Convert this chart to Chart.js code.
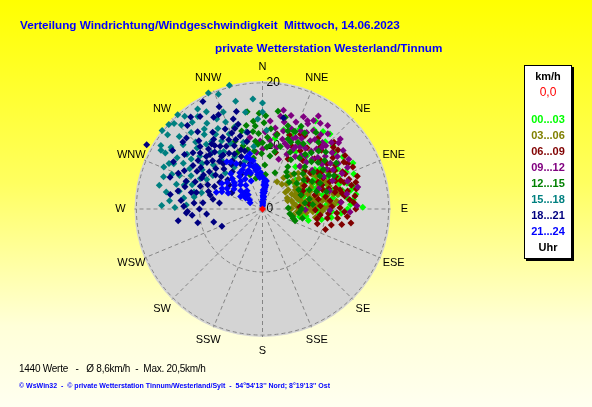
<!DOCTYPE html>
<html>
<head>
<meta charset="utf-8">
<script src="https://cdn.jsdelivr.net/npm/chart.js@4.4.0/dist/chart.umd.min.js"></script>
<style>
html, body { margin: 0; padding: 0; }
body {
    width: 592px; height: 407px; overflow: hidden; position: relative;
    background: linear-gradient(#ffff00 0%, #ffff60 45%, #ffffd8 80%, #fffff0 100%);
    font-family: "Liberation Sans", Arial, sans-serif;
}
canvas { position: absolute; left: 0; top: 0; }
.t { position: absolute; white-space: nowrap; }
.title { color: #0000ff; font-weight: bold; font-size: 11.7px; }
#legend {
    position: absolute; left: 524px; top: 65px; width: 46px; height: 192px;
    background: #fff; border: 1px solid #000; box-shadow: 2px 2px 0 #000;
}
#legend div { position: absolute; left: 0; width: 46px; text-align: center; font-size: 11px; font-weight: bold; line-height: 12px; }
</style>
</head>
<body>
<canvas id="rose" width="592" height="407"></canvas>

<div class="t title" style="left:20px; top:18px;">Verteilung Windrichtung/Windgeschwindigkeit&nbsp; Mittwoch, 14.06.2023</div>
<div class="t title" style="left:215px; top:41px;">private Wetterstation Westerland/Tinnum</div>

<div id="legend"></div>

<div class="t" style="left:19px; top:363px; font-size:10px; letter-spacing:-0.25px; color:#000;">1440 Werte &nbsp; - &nbsp; Ø 8,6km/h &nbsp;- &nbsp;Max. 20,5km/h</div>
<div class="t" style="left:19px; top:382px; font-size:7px; font-weight:bold; color:#0000ff;">© WsWin32 &nbsp;- &nbsp;© private Wetterstation Tinnum/Westerland/Sylt &nbsp;- &nbsp;54°54'13'' Nord; 8°19'13'' Ost</div>

<script>
// compass labels and speed rings (km/h)
var directions = ['N', 'NNE', 'NE', 'ENE', 'E', 'ESE', 'SE', 'SSE', 'S', 'SSW', 'SW', 'WSW', 'W', 'WNW', 'NW', 'NNW'];
var rings = [0, 10, 20];
var maxSpeed = 20.3;

// one point per reading: [direction in degrees, speed in km/h]
var h00_03 = [[31,16.3],[38,15.6],[55,11.2],[63,16.1],[76,14.8],[89,15.9],[83,13.6],[79,12.1],[95,6.8],[74,9.1],
    [43,14.6],[44,5.8],[76,5.9],[10,11.4],[78,14.3],[79,12.3],[96,6.5],[91,8.7],[60,9.5],[65,10.5],
    [70,11],[58,8],[68,7.5],[82,8.5],[86,10.2],[72,12.8],[50,12],[47,9],[62,13.5],[85,12],
    [66,14.5],[56,13],[80,10],[88,7.2],[73,6.8],[53,10.4],[40,11],[35,13],[69,9],[92,11],
    [100,9.5],[104,7.5],[90,13.5],[25,14],[33,15],[42,16],[48,15],[52,14.5],[57,15.2],[61,12],
    [64,11.5],[67,13],[69,15.5],[71,10],[73,14],[75,11.5],[77,13],[81,15],[84,14.5],[86,11],
    [87,14],[90,10.5],[93,12.5],[95,9],[97,11],[99,7],[102,6],[45,11],[49,7],[54,6.5],
    [59,11.8],[63,9],[67,8.6],[71,7.2],[77,9.8],[81,11.3],[84,8.8],[88,9.4],[91,6],[38,8.5],
    [30,10.5],[22,12.5],[15,13]];
var h03_06 = [[28,4.9],[53,5.1],[81,6.4],[85,8.5],[87,11.3],[77,7.8],[67,9.7],[53,8.5],[83,5.3],[85,7.7],
    [88,10.5],[60,6],[65,7],[70,8],[72,6.5],[75,9],[78,10.5],[80,7],[62,8.8],[58,7.4],
    [68,5.5],[74,4.8],[82,9.6],[86,6],[90,7.5],[92,9.5],[48,6.5],[45,8],[40,7],[64,10.5],
    [71,11.2],[76,12],[55,9.6],[66,4.3],[94,5.5],[89,4.6],[79,8.3],[84,11.8],[50,7.5],[52,9.8],
    [56,6.3],[59,10],[61,7.2],[63,5.2],[66,8.4],[67,11],[69,6.8],[70,9.5],[72,7.6],[73,10.8],
    [74,5.8],[76,8.8],[77,6.2],[78,11.5],[80,5],[81,8],[82,10.3],[83,7],[84,6.4],[86,9],
    [87,5.6],[88,8.2],[89,9.8],[91,6.5],[93,8],[95,7],[97,6],[99,8.5],[101,5],[44,5.5],
    [42,9],[38,5],[34,6],[57,11.5],[61,12],[65,6],[79,12.2],[85,10.8],[72,4.2],[54,4.5]];
var h06_09 = [[49,14.9],[60,14.9],[65,14],[74,15.4],[71,14.5],[66,12.7],[74,12.1],[76,12.7],[79,10.2],[91,8.4],
    [99,14.2],[51,14.3],[27,13.3],[30,13.4],[43,13.5],[11,12.1],[13,9.2],[27,8.9],[100,8.8],[87,5.9],
    [55,12.5],[58,11],[62,13],[68,11.5],[70,13.2],[78,13.8],[82,14.8],[85,12.5],[88,11],[94,10.5],
    [97,12],[64,9.8],[72,10],[46,11.5],[40,10],[36,12],[53,9.5],[57,15.6],[80,9],[84,7.4],
    [92,13],[61,7.6],[75,8.6],[103,11.2],[45,13.2],[47,15.5],[50,12],[52,15.2],[54,13.8],[56,10.5],
    [59,13.5],[60,12.2],[62,15.3],[63,10.8],[65,15.8],[67,14.2],[68,10.2],[69,12.4],[71,15.9],[72,13.6],
    [73,11],[75,14.6],[77,11.8],[78,15.2],[79,12.9],[81,13.2],[83,10.8],[84,13.9],[86,14.5],[87,9.2],
    [89,12.3],[90,14.8],[93,11.8],[95,13.5],[96,9.2],[98,10.4],[101,12.8],[105,9],[108,10.5],[38,14.3],
    [33,11],[25,11],[20,12.5],[48,9],[57,8.5],[66,7],[70,6.5]];
var h09_12 = [[31,17.2],[27,15.7],[28,15.3],[9,13],[48,16.6],[42,14.2],[32,12.1],[22,10.7],[32,9.8],[45,11.2],
    [354,9],[0,9.5],[92,13.9],[91,6.8],[91,10.7],[77,15.5],[20,13.5],[25,12.5],[30,14],[35,13.2],
    [38,15],[40,12],[44,13.6],[50,13],[52,10],[55,14.5],[58,12],[36,10.5],[24,9.5],[16,11.5],
    [14,14.2],[18,8.3],[62,11],[66,13.8],[34,16.4],[46,15.2],[28,11.2],[41,9],[70,9.5],[85,12.5],
    [6,11],[12,16],[60,15.8],[5,14],[8,10.2],[10,12],[11,15],[13,10],[15,12.8],[17,15.5],
    [19,11],[21,14.8],[23,12],[24,16],[26,13.8],[27,10.5],[29,12.8],[30,16.2],[31,11.5],[33,14.8],
    [35,11.8],[37,13.8],[38,16.8],[39,10.8],[41,15.8],[42,12.8],[43,10.2],[45,14.2],[47,12],[49,16],
    [51,14.2],[53,11.8],[54,15.8],[56,13],[59,14],[61,12.8],[64,15],[68,12],[72,14.2],[75,11],
    [80,13.6],[88,15],[2,12.2],[358,10.8],[350,11.5]];
var h12_15 = [[9,15.7],[354,14],[353,12.4],[354,10.8],[4,11.4],[4,9.8],[18,13],[22,13.3],[23,11.5],[16,10.3],
    [347,11],[338,11.6],[346,9.7],[355,13.2],[345,12.8],[356,10.3],[353,6.8],[340,5.8],[3,7],[19,6.1],
    [1,13.7],[350,8.2],[8,8.5],[358,15.2],[17,13.8],[23,13.3],[35,14.8],[40,13.8],[88,4.1],[107,5.1],
    [104,4.9],[30,9],[38,11],[45,9.5],[50,11.5],[55,8],[60,10.5],[48,13.5],[33,7],[28,12],
    [65,12.5],[42,7.5],[58,13.8],[70,6.5],[96,5.8],[100,4.4],[26,10],[357,12],[352,9.3],[349,13.5],
    [343,10.5],[0,10.5],[2,14.8],[6,12.8],[7,10.2],[11,12],[12,9.3],[14,15],[20,11.8],[341,13.7],
    [336,9.8],[351,15.6],[359,8.8],[348,5],[5,5.5],[25,14.5],[29,13.8],[32,12.2],[36,10],[41,11.8],
    [44,12.8],[46,10.8],[49,8.5],[52,12.5],[54,10],[57,11.5],[61,9],[63,11.8],[66,10],[68,8],
    [72,9],[75,10.5],[78,7.6],[82,6.8],[85,8],[31,7.8],[37,6.5],[45,6],[53,6.8],[62,6.5],
    [90,6.2],[103,6.5],[110,5.5]];
var h15_18 = [[312,20],[304,17.5],[297,15.8],[291,15.4],[286,14.2],[282,13.5],[305,13.8],[284,11.2],[321,17.7],[325,17.9],
    [308,19.1],[303,17.2],[288,16.5],[271,13.9],[273,12.1],[327,18.9],[335,20.3],[345,20.3],[350,15.6],[0,16.8],
    [0,15.4],[338,16.6],[333,16],[324,15.7],[323,13.4],[310,13],[303,11.4],[332,9.4],[340,8.1],[300,14.5],
    [295,12.5],[315,15],[318,12],[328,14],[312,10.5],[298,10],[290,12.8],[278,12.6],[309,16.2],[316,18.5],
    [336,13],[344,11],[320,10],[300,17.8],[3,12.5],[326,11],[275,14.8],[280,15.5],[283,16.8],[287,13],
    [289,11.8],[292,14.2],[293,17],[296,16.5],[299,13.2],[301,15.8],[302,19],[306,14.8],[307,12],[311,17.5],
    [313,14.2],[314,19.5],[317,16.6],[319,13.6],[320,19.2],[322,15],[323,11.2],[327,16.2],[329,12.6],[330,17.8],
    [331,14.6],[334,11.6],[337,15],[339,19.5],[342,13.8],[346,17.6],[348,12.5],[352,10],[355,17.5],[357,14.3],
    [296,11],[285,10],[280,11],[304,9.5],[314,8.2],[326,8],[300,18.6],[308,20.2],[318,20.1],[272,16]];
var h18_21 = [[337,17.6],[342,15],[343,12.1],[322,13.1],[313,12.2],[318,10.2],[305,10.3],[308,8.3],[321,7.6],[294,9.5],
    [285,8.6],[298,5.5],[278,6.9],[312,3.8],[349,12.4],[331,19.5],[326,17.7],[320,16],[305,15.1],[279,14.8],
    [282,13.7],[290,12.9],[275,10.9],[268,11.9],[299,21],[262,13.5],[267,12.1],[265,11.2],[265,8.9],[247,7],
    [13,14.8],[315,14],[325,13.5],[330,11.5],[335,14],[328,9],[310,11.5],[300,12],[296,13.8],[302,8],
    [316,8.8],[324,10.6],[334,8],[340,10],[338,13],[310,16.5],[290,10.5],[306,6.5],[345,16],[332,16.5],
    [284,10.8],[276,13],[318,12.8],[345,7.5],[300,10.8],[302,13],[304,11.8],[306,9.2],[307,12.8],[309,14.2],
    [311,9.8],[312,13.3],[314,11],[316,12],[317,14.8],[319,9.5],[320,11.8],[322,10.6],[323,12.6],[325,8.6],
    [326,12],[327,14.5],[329,10.3],[331,13],[333,9.8],[334,12.2],[336,11],[338,9],[339,11.8],[341,13.5],
    [343,9.6],[344,14],[347,11],[292,11.5],[293,14.5],[295,8.4],[297,10.8],[288,9],[286,12.8],[283,11.6],
    [281,8],[276,9.5],[272,12.5],[270,10],[258,10.5],[255,8],[313,16.5],[318,17.8],[322,18.5],[335,16.5],
    [303,17],[298,16],[289,15.5],[315,6.8],[330,6.5],[310,7.2]];
var h21_24 = [[2,0.5],[3,1],[4,1.5],[4,2],[5,2.5],[5,3],[6,3.5],[6,4],[5,4.5],[3,4.8],
    [1,1.2],[7,2.8],[8,3.8],[2,2.2],[355,5],[352,5.5],[350,6.2],[346,8.1],[344,7.2],[348,6.8],
    [340,6.5],[335,6.2],[325,6.3],[313,6.1],[305,5.5],[300,6.5],[293,7],[290,7.8],[318,7.5],[323,9.4],
    [326,9],[330,8.3],[310,4.5],[320,3.8],[300,4],[305,2.5],[338,4.8],[330,5.5],[3,0.8],[4,1.8],
    [5,2],[6,3.2],[7,3.5],[5,4],[4,4.3],[6,4.6],[3,3.8],[2,3],[1,2.6],[8,4.5],
    [359,5.2],[357,5.8],[354,6.5],[351,7],[349,7.8],[347,9],[343,8.6],[342,6],[337,7.5],[333,7],
    [328,6.8],[322,5.6],[318,5.2],[315,6.8],[310,5.8],[307,7],[302,7.6],[297,7.2],[295,6],[315,3.2],
    [309,3.8],[303,3.2],[297,2.2],[325,4.6]];
var current = [[0,0]];

var series = [
    { label: '00...03', color: '#00ff00', data: h00_03 },
    { label: '03...06', color: '#808000', data: h03_06 },
    { label: '06...09', color: '#800000', data: h06_09 },
    { label: '09...12', color: '#800080', data: h09_12 },
    { label: '12...15', color: '#008000', data: h12_15 },
    { label: '15...18', color: '#008080', data: h15_18 },
    { label: '18...21', color: '#000080', data: h18_21 },
    { label: '21...24', color: '#0000ff', data: h21_24 }
];

// direction/speed -> x/y on the hidden scatter scales
function toXY(p) {
    var a = p[0] * Math.PI / 180;
    return { x: p[1] * Math.sin(a), y: p[1] * Math.cos(a) };
}

// legend box on the right
var legend = document.getElementById('legend');
var html = '<div style="top:4px;color:#000">km/h</div>' +
    '<div style="top:20px;color:#ff0000;font-weight:normal;font-size:12px">0,0</div>';
series.forEach(function (s, i) {
    html += '<div style="top:' + (47 + i * 16) + 'px;color:' + s.color + '">' + s.label + '</div>';
});
html += '<div style="top:175px;color:#000">Uhr</div>';
legend.innerHTML = html;

// grey disk, dashed rings and spokes, labels
var roseGrid = {
    id: 'roseGrid',
    beforeDatasetsDraw: function (chart) {
        var ctx = chart.ctx;
        var sx = chart.scales.x, sy = chart.scales.y;
        var cx = sx.getPixelForValue(0), cy = sy.getPixelForValue(0);
        var unit = sx.getPixelForValue(1) - cx;
        var rMax = maxSpeed * unit;
        ctx.save();
        ctx.fillStyle = '#d4d4d4';
        ctx.beginPath();
        ctx.arc(cx, cy, rMax, 0, Math.PI * 2);
        ctx.fill();

        ctx.strokeStyle = '#858585';
        ctx.lineWidth = 1;
        ctx.setLineDash([4, 3]);
        rings.forEach(function (r) {
            if (r === 0) return;
            ctx.beginPath();
            ctx.arc(cx, cy, r * unit, 0, Math.PI * 2);
            ctx.stroke();
        });
        directions.forEach(function (d, i) {
            var a = i * 22.5 * Math.PI / 180;
            ctx.beginPath();
            ctx.moveTo(cx, cy);
            ctx.lineTo(cx + rMax * Math.sin(a), cy - rMax * Math.cos(a));
            ctx.stroke();
        });
        ctx.setLineDash([]);

        ctx.fillStyle = '#000';
        ctx.font = '12px "Liberation Sans", Arial, sans-serif';
        ctx.textAlign = 'left';
        ctx.textBaseline = 'middle';
        rings.forEach(function (r) {
            ctx.fillText(String(r), cx + 4, cy - r * unit);
        });

        ctx.font = '11px "Liberation Sans", Arial, sans-serif';
        ctx.textAlign = 'center';
        directions.forEach(function (d, i) {
            var a = i * 22.5 * Math.PI / 180;
            var r = rMax + 14;
            ctx.fillText(d, cx + r * Math.sin(a), cy - r * Math.cos(a));
        });
        ctx.restore();
    }
};

var datasets = series.map(function (s, i) {
    return {
        label: s.label,
        data: s.data.map(toXY),
        backgroundColor: s.color,
        borderColor: s.color,
        borderWidth: 0,
        pointStyle: 'rectRot',
        pointRadius: 3.5,
        clip: false,
        order: 9 - i
    };
});
datasets.push({
    label: 'aktuell',
    data: current.map(toXY),
    backgroundColor: '#ff0000',
    borderColor: '#ff0000',
    borderWidth: 0,
    pointStyle: 'rectRot',
    pointRadius: 3.5,
    clip: false,
    order: 0
});

var chart = new Chart(document.getElementById('rose'), {
    type: 'scatter',
    data: { datasets: datasets },
    options: {
        responsive: false,
        animation: false,
        layout: { padding: { left: 134.5, right: 201.5, top: 81, bottom: 70 } },
        scales: {
            x: { display: false, min: -maxSpeed, max: maxSpeed },
            y: { display: false, min: -maxSpeed, max: maxSpeed }
        },
        plugins: { legend: { display: false }, tooltip: { enabled: false } }
    },
    plugins: [roseGrid]
});
</script>
</body>
</html>
